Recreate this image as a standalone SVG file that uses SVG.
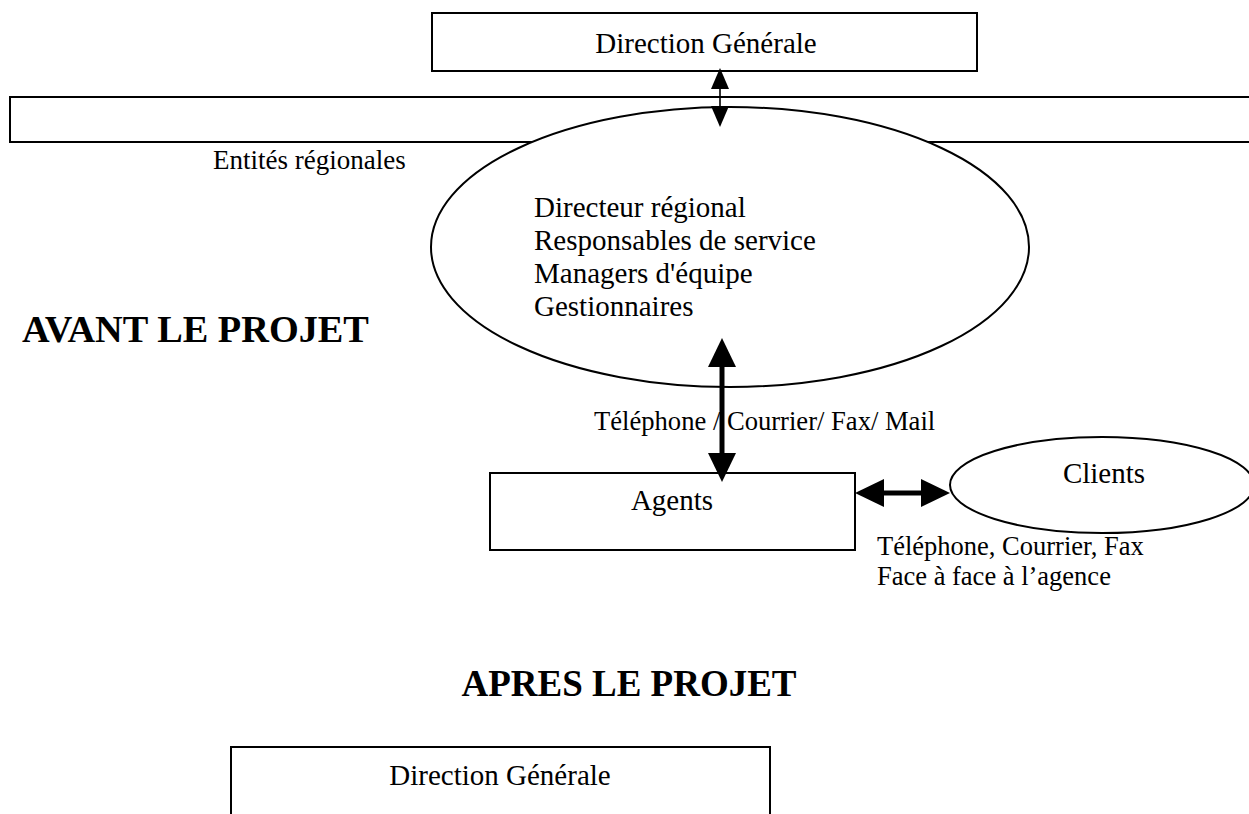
<svg xmlns="http://www.w3.org/2000/svg" width="1249" height="814" viewBox="0 0 1249 814">
<style>
.box{fill:#fff;stroke:#000;stroke-width:2}
.t{font-family:"Liberation Serif","Times New Roman",serif;fill:#000}
.title{font-family:"Liberation Serif","Times New Roman",serif;font-weight:bold;fill:#000}
.thick{stroke:#000;stroke-width:5;fill:none}
.thin{stroke:#000;stroke-width:1.6;fill:none}
</style>
<defs>
<marker id="big" markerUnits="userSpaceOnUse" viewBox="0 0 29 28" refX="0" refY="14" markerWidth="29" markerHeight="28" orient="auto-start-reverse">
<path d="M0,0 L29,14 L0,28 z" fill="#000"/>
</marker>
<marker id="small" markerUnits="userSpaceOnUse" viewBox="0 0 21 18" refX="0" refY="9" markerWidth="21" markerHeight="18" orient="auto-start-reverse">
<path d="M0,0 L21,9 L0,18 z" fill="#000"/>
</marker>
</defs>
<rect width="1249" height="814" fill="#fff"/>

<g id="direction-generale-top">
<rect class="box" x="432" y="13" width="545" height="58"/>
<text class="t" x="706" y="53" font-size="29" text-anchor="middle">Direction Générale</text>
</g>

<g id="entites-regionales">
<rect class="box" x="10" y="97" width="1260" height="45" stroke-width="2.5"/>
<text class="t" x="213" y="169" font-size="27">Entités régionales</text>
</g>

<g id="regional-staff">
<ellipse class="box" cx="730" cy="247" rx="299" ry="140"/>
<text class="t" font-size="29">
<tspan x="534" y="217">Directeur régional</tspan>
<tspan x="534" y="250">Responsables de service</tspan>
<tspan x="534" y="283">Managers d'équipe</tspan>
<tspan x="534" y="316">Gestionnaires</tspan>
</text>
</g>

<g id="title-avant">
<text class="title" x="22" y="342" font-size="38.3">AVANT LE PROJET</text>
</g>

<g id="agents">
<rect class="box" x="490" y="473" width="365" height="77"/>
<text class="t" x="672" y="510" font-size="29" text-anchor="middle">Agents</text>
</g>

<g id="clients">
<ellipse class="box" cx="1102" cy="485" rx="152" ry="48"/>
<text class="t" x="1104" y="483" font-size="29" text-anchor="middle">Clients</text>
</g>

<g id="connectors">
<line class="thin" x1="720" y1="89" x2="720" y2="106" marker-start="url(#small)" marker-end="url(#small)"/>
<line class="thick" x1="722" y1="367" x2="722" y2="453" marker-start="url(#big)" marker-end="url(#big)"/>
<line class="thick" x1="884" y1="493" x2="921" y2="493" marker-start="url(#big)" marker-end="url(#big)"/>
</g>

<g id="labels">
<text class="t" x="594" y="430" font-size="26.6">Téléphone / Courrier/ Fax/ Mail</text>
<text class="t" x="877" y="555" font-size="26.5">Téléphone, Courrier, Fax</text>
<text class="t" x="877" y="585" font-size="26.5">Face à face à l’agence</text>
</g>

<g id="title-apres">
<text class="title" x="629" y="696" font-size="37" text-anchor="middle">APRES LE PROJET</text>
</g>

<g id="direction-generale-bottom">
<rect class="box" x="231" y="747" width="539" height="80"/>
<text class="t" x="500" y="785" font-size="29" text-anchor="middle">Direction Générale</text>
</g>
</svg>
